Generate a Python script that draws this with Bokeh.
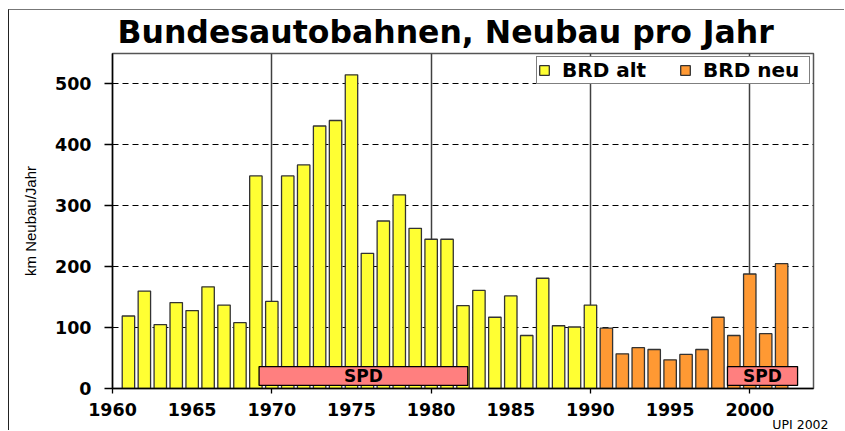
from bokeh.plotting import figure
from bokeh.models import Range1d, FixedTicker, Legend, LegendItem, Title
from bokeh.embed import file_html
from bokeh.resources import INLINE
from bokeh.core.properties import value

# ---- data ----
years_alt = list(range(1961, 1991))
km_alt = [119, 160, 105, 141, 128, 167, 137, 108, 349, 143,
          349, 367, 431, 440, 515, 222, 275, 318, 263, 245,
          245, 136, 161, 117, 152, 87, 181, 103, 101, 137]
years_neu = list(range(1991, 2003))
km_neu = [99, 57, 67, 64, 47, 56, 64, 117, 87, 188, 90, 205]

spd_start = [1969.2, 1998.6]
spd_end = [1982.3, 2003.0]
spd_text = ["SPD", "SPD"]

x_tick_years = [1960, 1965, 1970, 1975, 1980, 1985, 1990, 1995, 2000]
x_decades = [1960, 1970, 1980, 1990, 2000]
y_ticks = [0, 100, 200, 300, 400, 500]

FONT = "DejaVu Sans"

p = figure(width=836, height=421, output_backend="svg", toolbar_location=None,
           x_range=Range1d(1960, 2004), y_range=Range1d(0, 550),
           min_border_left=103, min_border_right=32, min_border_top=43,
           min_border_bottom=43)
p.styles = {"margin-left": "8px", "margin-top": "9px",
            "border-left": "1px solid #222222", "border-top": "1px solid #777777"}

p.background_fill_color = "white"
p.border_fill_color = "white"
p.outline_line_color = "#555555"
p.outline_line_width = 1.5

# title
p.title.text = "Bundesautobahnen, Neubau pro Jahr"
p.title.text_font = FONT
p.title.text_font_size = "31.5px"
p.title.text_font_style = "bold"
p.title.text_color = "black"
p.title.align = "left"
p.title.offset = 5
p.title.standoff = 4
p.title.vertical_align = "top"

# x axis
xa = p.xaxis[0]
xa.ticker = FixedTicker(ticks=x_tick_years, minor_ticks=x_decades)
xa.major_tick_out = 0
xa.major_tick_in = 0
xa.minor_tick_out = 5
xa.minor_tick_in = 0
xa.minor_tick_line_color = "black"
xa.minor_tick_line_width = 1.3
xa.axis_line_color = "black"
xa.axis_line_width = 1.5
xa.major_label_text_font = FONT
xa.major_label_text_font_size = "17.5px"
xa.major_label_text_font_style = "bold"
xa.major_label_text_color = "black"
xa.major_label_standoff = 9

# y axis
ya = p.yaxis[0]
ya.ticker = FixedTicker(ticks=y_ticks)
ya.major_tick_out = 8
ya.major_tick_in = 0
ya.major_tick_line_color = "black"
ya.major_tick_line_width = 1.3
ya.axis_line_color = "black"
ya.axis_line_width = 1.5
ya.major_label_text_font = FONT
ya.major_label_text_font_size = "17.5px"
ya.major_label_text_font_style = "bold"
ya.major_label_text_color = "black"
ya.major_label_standoff = 13
ya.axis_label = "km Neubau/Jahr"
ya.axis_label_text_font = "Liberation Sans"
ya.axis_label_text_font_size = "15px"
ya.axis_label_text_font_style = "normal"
ya.axis_label_text_color = "black"
ya.axis_label_standoff = 13

# grids
p.xgrid.ticker = FixedTicker(ticks=[1970, 1980, 1990, 2000])
p.xgrid.grid_line_color = "#404040"
p.xgrid.grid_line_width = 1.5
p.ygrid.ticker = FixedTicker(ticks=[100, 200, 300, 400, 500])
p.ygrid.grid_line_color = "black"
p.ygrid.grid_line_dash = "6 4"
p.ygrid.grid_line_width = 1.2

# bars
r_alt = p.vbar(x=years_alt, top=km_alt, width=0.78, fill_color="#FFFF33",
               line_color="#333333", line_width=1.3)
r_neu = p.vbar(x=years_neu, top=km_neu, width=0.78, fill_color="#FF9933",
               line_color="#333333", line_width=1.3)

# SPD periods
p.quad(left=spd_start, right=spd_end, bottom=5, top=36, fill_color="#FF7F7F",
       line_color="black", line_width=1.3)
spd_mid = [(a + b) / 2 for a, b in zip(spd_start, spd_end)]
p.text(x=spd_mid, y=[20.5] * len(spd_mid), text=spd_text, text_align="center",
       text_baseline="middle", text_font=value(FONT), text_font_size="17px",
       text_font_style="bold", text_color="black")

# legend
legend = Legend(items=[LegendItem(label="BRD alt", renderers=[r_alt]),
                       LegendItem(label="BRD neu", renderers=[r_neu])],
                location="top_right", orientation="horizontal")
legend.border_line_color = "black"
legend.border_line_width = 1.3
legend.background_fill_color = "white"
legend.background_fill_alpha = 1
legend.padding = 1
legend.margin = 3
legend.spacing = 12
legend.label_standoff = 12
legend.label_width = 105
legend.glyph_width = 12
legend.glyph_height = 12
legend.label_text_font = FONT
legend.label_text_font_size = "20px"
legend.label_text_font_style = "bold"
legend.label_text_color = "black"
p.add_layout(legend)

# source note
note = Title(text="UPI 2002", align="right", offset=-15, standoff=-4,
             vertical_align="top", text_font=FONT, text_font_size="12.5px",
             text_font_style="normal", text_color="black")
p.add_layout(note, "below")

open("out.html", "w").write(file_html(p, INLINE))
